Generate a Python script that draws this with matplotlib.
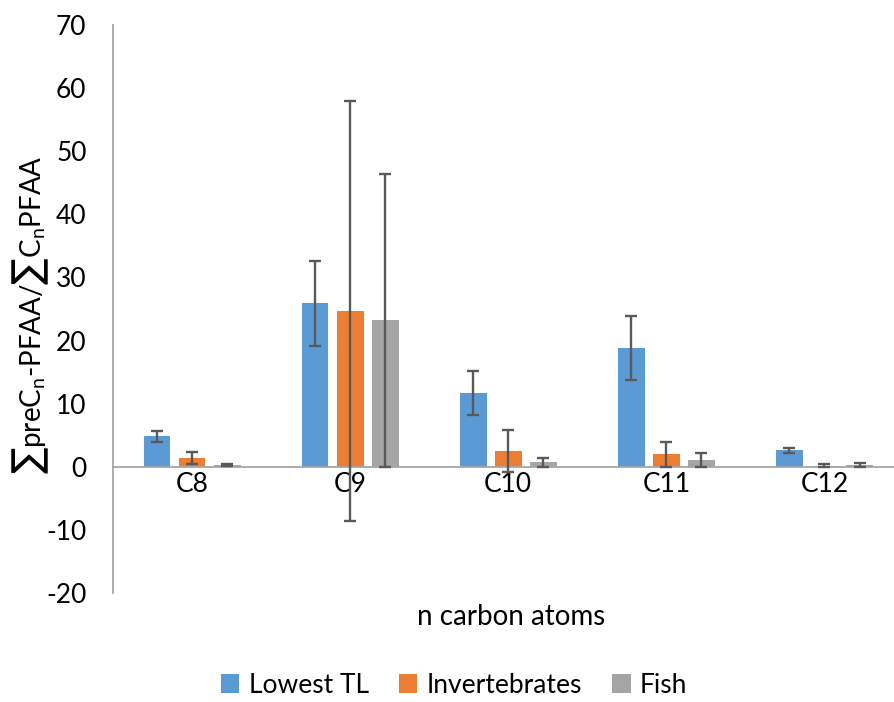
import numpy as np
import matplotlib
matplotlib.use("Agg")
import matplotlib.pyplot as plt
from matplotlib.patches import Patch

plt.rcParams['font.family'] = ['Lato', 'DejaVu Sans']
plt.rcParams['mathtext.default'] = 'regular'
plt.rcParams['axes.unicode_minus'] = False

# data
categories = ["C8", "C9", "C10", "C11", "C12"]
series_names = ["Lowest TL", "Invertebrates", "Fish"]
lowest_tl = [4.8, 25.9, 11.7, 18.8, 2.6]
lowest_tl_err = [0.85, 6.7, 3.5, 5.05, 0.45]
invertebrates = [1.4, 24.7, 2.5, 2.0, 0.2]
invertebrates_err = [1.0, 33.3, 3.4, 2.0, 0.2]
fish = [0.3, 23.2, 0.7, 1.1, 0.3]
fish_err = [0.15, 23.2, 0.7, 1.1, 0.3]
yticks = [-20, -10, 0, 10, 20, 30, 40, 50, 60, 70]

colors = ["#5B9BD5", "#ED7D31", "#A5A5A5"]
axis_grey = "#A6A6A6"
err_grey = "#595959"
fs = 19

fig = plt.figure(figsize=(8.94, 7.02), dpi=100)
ax = fig.add_axes([113 / 894, 1 - 593 / 702, 1 - 113 / 894, 568 / 702])

x = np.arange(len(categories))
width = 0.17
offset = 0.222
values = [lowest_tl, invertebrates, fish]
errors = [lowest_tl_err, invertebrates_err, fish_err]
for i, (vals, errs) in enumerate(zip(values, errors)):
    ax.bar(x + (i - 1) * offset, vals, width, color=colors[i], yerr=errs,
           error_kw=dict(ecolor=err_grey, elinewidth=1.7, capsize=4.3,
                         capthick=1.7, zorder=4),
           zorder=1)

ax.set_xlim(-0.5, 4.44)
ax.set_ylim(-20, 70)
ax.set_yticks(yticks)
ax.set_yticks([-20, 0, 70], minor=True)
ax.tick_params(axis='y', which='major', length=0, pad=19, labelsize=fs)
ax.tick_params(axis='y', which='minor', length=6, width=1, color=axis_grey)
ax.set_xticks(x)
ax.set_xticklabels(categories)
ax.tick_params(axis='x', length=0, pad=4, labelsize=fs)

for side in ['top', 'right']:
    ax.spines[side].set_visible(False)
ax.spines['bottom'].set_position(('data', 0))
for side in ['bottom', 'left']:
    ax.spines[side].set_color(axis_grey)
    ax.spines[side].set_linewidth(1.3)
ax.spines['bottom'].set_zorder(3)

ax.set_xlabel("n carbon atoms", fontsize=fs + 1)
ax.xaxis.set_label_coords(0.51, -0.02)
ax.set_ylabel("∑preC$_{n}$-PFAA/∑C$_{n}$PFAA", fontsize=fs + 1)
ax.yaxis.set_label_coords(-0.079, 0.49)

handles = [Patch(facecolor=c, edgecolor='none') for c in colors]
fig.legend(handles, series_names, loc='lower center', bbox_to_anchor=(0.508, -0.028),
           ncol=3, frameon=False, fontsize=fs, handlelength=0.7, handleheight=0.7,
           handletextpad=0.35, columnspacing=1.15)

fig.savefig("out.png", dpi=100)
